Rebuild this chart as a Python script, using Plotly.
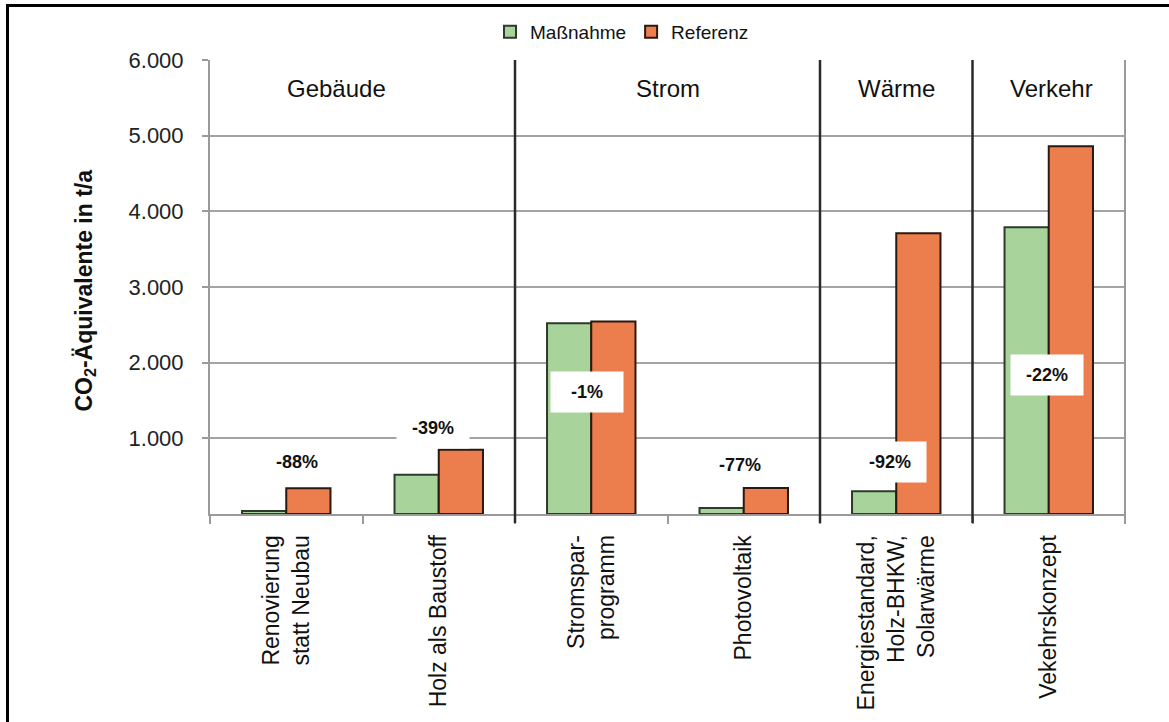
import plotly.graph_objects as go

# --- data -------------------------------------------------------------
categories = [
    "Renovierung<br>statt Neubau",
    "Holz als Baustoff",
    "Stromspar-<br>programm",
    "Photovoltaik",
    "Energiestandard,<br>Holz-BHKW,<br>Solarwärme",
    "Vekehrskonzept",
]
massnahme = [40, 520, 2520, 80, 300, 3790]
referenz = [340, 850, 2545, 345, 3710, 4860]
change_labels = ["-88%", "-39%", "-1%", "-77%", "-92%", "-22%"]

sectors = ["Gebäude", "Strom", "Wärme", "Verkehr"]
sector_spans = [(0, 1), (2, 3), (4, 4), (5, 5)]   # category index range per sector

y_tick_vals = [1000, 2000, 3000, 4000, 5000, 6000]
y_tick_text = ["1.000", "2.000", "3.000", "4.000", "5.000", "6.000"]

# --- layout geometry (pixels) ----------------------------------------
W, H = 1169, 722
L, R, T, B = 210, 44, 60, 208
plot_w = W - L - R
plot_h = H - T - B
YMAX = 6000


def px_x(px):
    return (px - L) / plot_w


def px_y(py):
    return (H - B - py) / plot_h


def y_from_px(py):
    return (H - B - py) / plot_h * YMAX


GREEN, GREEN_EDGE = "#A8D49C", "#2E3A2B"
ORANGE, ORANGE_EDGE = "#EC7E4E", "#2B1810"
FONT = "Liberation Sans, Arial, sans-serif"

fig = go.Figure()
fig.add_trace(go.Bar(
    name="Maßnahme", x=categories, y=massnahme,
    marker=dict(color=GREEN, line=dict(color=GREEN_EDGE, width=2)),
))
fig.add_trace(go.Bar(
    name="Referenz", x=categories, y=referenz,
    marker=dict(color=ORANGE, line=dict(color=ORANGE_EDGE, width=2)),
))

# percentage change labels (pixel placement within each group)
label_pos = [(11, 462), (-6, 428), (-4, 392), (-4, 465), (-6, 462), (-2, 375)]
cat_w = plot_w / len(categories)
for i, (txt, (dx, py)) in enumerate(zip(change_labels, label_pos)):
    fig.add_annotation(
        x=i + dx / cat_w, xref="x", y=y_from_px(py), yref="y",
        text=f"<b>{txt}</b>", showarrow=False,
        font=dict(family=FONT, size=18, color="#111"),
        bgcolor="white", width=70, height=38,
    )

# sector headings
header_dx = [-26, 0, 0, 3]
for name, (a, b), dx in zip(sectors, sector_spans, header_dx):
    fig.add_annotation(
        x=(a + b) / 2 + dx / cat_w, xref="x", y=y_from_px(88), yref="y",
        text=name, showarrow=False,
        font=dict(family=FONT, size=24, color="#111"),
    )

# sector separators and right border of the plot
for xb in [1.5, 3.5, 4.5]:
    fig.add_shape(type="line", xref="x", yref="paper", x0=xb, x1=xb,
                  y0=px_y(523), y1=1, line=dict(color="#2a2a2a", width=2.5))
fig.add_shape(type="line", xref="paper", yref="paper", x0=1, x1=1,
              y0=px_y(521), y1=1, line=dict(color="#9a9a9a", width=2))

# outer frame (left and top edges)
fig.add_shape(type="line", xref="paper", yref="paper", x0=px_x(7.5), x1=px_x(7.5),
              y0=px_y(H + 2), y1=px_y(5), line=dict(color="black", width=3))
fig.add_shape(type="line", xref="paper", yref="paper", x0=px_x(6), x1=px_x(W + 2),
              y0=px_y(5.5), y1=px_y(5.5), line=dict(color="black", width=3))

# y-axis title
fig.add_annotation(
    x=px_x(68), xref="paper", y=px_y(291), yref="paper",
    text="<b>CO<sub>2</sub>-Äquivalente in t/a</b>", textangle=-90,
    showarrow=False, font=dict(family=FONT, size=23, color="#111"),
)

fig.update_layout(
    width=W, height=H, autosize=False,
    margin=dict(l=L, r=R, t=T, b=B),
    paper_bgcolor="white", plot_bgcolor="white",
    barmode="group", bargap=0.42, bargroupgap=0,
    font=dict(family=FONT, size=18, color="#111"),
    legend=dict(
        orientation="h", x=px_x(622), xanchor="center", y=px_y(32), yanchor="middle",
        font=dict(family=FONT, size=19, color="#111"),
        bgcolor="rgba(0,0,0,0)", itemwidth=30, tracegroupgap=0,
    ),
    showlegend=True,
)
fig.update_xaxes(
    type="category", tickson="boundaries", ticks="outside", ticklen=8,
    tickcolor="#9a9a9a", tickwidth=2, tickangle=-90,
    showline=True, linecolor="#9a9a9a", linewidth=2,
    showgrid=False, ticklabelstandoff=10,
    tickfont=dict(family=FONT, size=23, color="#111"),
)
fig.update_yaxes(
    range=[0, YMAX], tickvals=y_tick_vals, ticktext=y_tick_text,
    ticks="outside", ticklen=6, tickcolor="#9a9a9a", tickwidth=2,
    showline=True, linecolor="#9a9a9a", linewidth=2,
    showgrid=True, gridcolor="#a3a3a3", gridwidth=2,
    zeroline=False, ticklabelstandoff=14,
    tickfont=dict(family=FONT, size=22, color="#222"),
)

fig.write_html("out.html")
